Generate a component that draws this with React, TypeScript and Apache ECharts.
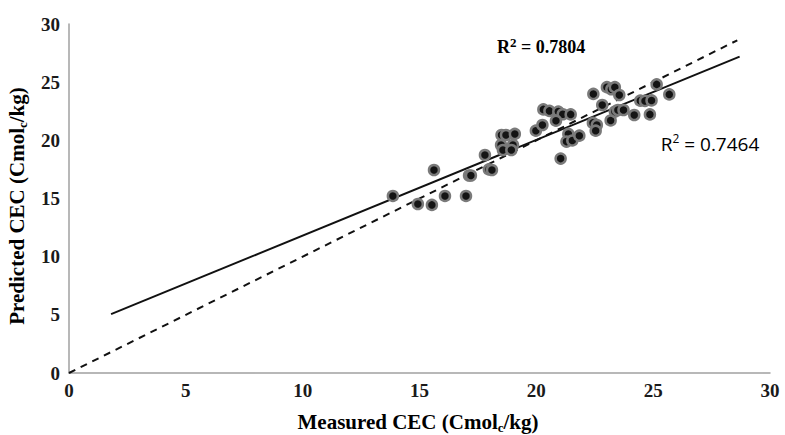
import React, { useEffect, useRef } from "react";
import * as echarts from "echarts";

const measured = [
  13.86, 14.93, 15.53, 16.09, 15.62, 16.99, 17.12, 17.2, 17.8, 17.97, 18.1,
  18.51, 18.7, 19.08, 18.49, 19.0, 18.57, 18.93, 19.98, 20.26, 20.3, 20.56,
  20.94, 21.13, 21.47, 20.84, 21.04, 21.37, 21.29, 21.54, 21.84, 22.44, 23.02,
  23.21, 23.36, 23.55, 22.82, 22.42, 22.59, 22.54, 23.18, 23.36, 23.49, 23.73,
  24.19, 24.45, 24.65, 24.93, 24.86, 25.15, 25.69,
];
const predicted = [
  15.22, 14.53, 14.45, 15.22, 17.45, 15.22, 16.98, 16.98, 18.74, 17.5, 17.45,
  20.46, 20.46, 20.55, 19.6, 19.6, 19.17, 19.17, 20.83, 21.32, 22.66, 22.53,
  22.47, 22.24, 22.23, 21.69, 18.43, 20.55, 19.89, 19.99, 20.4, 23.99, 24.57,
  24.39, 24.57, 23.9, 23.04, 21.5, 21.32, 20.83, 21.71, 22.47, 22.61, 22.61,
  22.18, 23.41, 23.39, 23.43, 22.23, 24.81, 23.95,
];
const fitLine = [
  [1.8, 5.06],
  [28.7, 27.2],
];
const oneToOne = [
  [0, 0],
  [28.6, 28.6],
];
const xTicks = [0, 5, 10, 15, 20, 25, 30];
const yTicks = [0, 5, 10, 15, 20, 25, 30];
const r2FitValue = "0.7804";
const r2OtherValue = "0.7464";

export default function App() {
  const ref = useRef<HTMLDivElement>(null);
  useEffect(() => {
    document.body.style.margin = "0";
    if (!ref.current) return;
    const chart = echarts.init(ref.current, null, { renderer: "svg" });
    const serif = "'Liberation Serif', 'Times New Roman', serif";
    const sans = "'Open Sans', 'Liberation Sans', sans-serif";
    const labelStyle = {
      fontFamily: serif,
      fontWeight: "bold" as const,
      fontSize: 19,
      color: "#1a1a1a",
    };
    chart.setOption({
      animation: false,
      backgroundColor: "#ffffff",
      grid: { left: 69, right: 15, top: 24, bottom: 62 },
      xAxis: {
        type: "value",
        min: 0,
        max: 30,
        interval: 5,
        splitLine: { show: false },
        axisTick: { show: false },
        axisLine: { show: true, lineStyle: { color: "#a0a0a0", width: 1.5 } },
        axisLabel: {
          ...labelStyle,
          margin: 8,
          formatter: (v: number) => (xTicks.includes(v) ? String(v) : ""),
        },
      },
      yAxis: {
        type: "value",
        min: 0,
        max: 30,
        interval: 5,
        splitLine: { show: false },
        axisTick: { show: false },
        axisLine: { show: true, lineStyle: { color: "#a0a0a0", width: 1.5 } },
        axisLabel: {
          ...labelStyle,
          margin: 9,
          formatter: (v: number) => (yTicks.includes(v) ? String(v) : ""),
        },
      },
      graphic: [
        {
          type: "text",
          x: 418,
          y: 409,
          style: {
            text: "{m|Measured CEC (Cmol}{s|c}{m|/kg)}",
            align: "center",
            verticalAlign: "top",
            rich: {
              m: { ...labelStyle, fontSize: 21, lineHeight: 25 },
              s: { ...labelStyle, fontSize: 13, lineHeight: 12, verticalAlign: "bottom" },
            },
          },
          z: 10,
        },
        {
          type: "text",
          x: 4,
          y: 206,
          rotation: Math.PI / 2,
          style: {
            text: "{m|Predicted CEC (Cmol}{s|c}{m|/kg)}",
            align: "center",
            verticalAlign: "top",
            rich: {
              m: { ...labelStyle, fontSize: 21, lineHeight: 25 },
              s: { ...labelStyle, fontSize: 13, lineHeight: 12, verticalAlign: "bottom" },
            },
          },
          z: 10,
        },
        {
          type: "text",
          x: 541,
          y: 47,
          style: {
            text: "{m|R}{sup|2}{m| = " + r2FitValue + "}",
            align: "center",
            verticalAlign: "middle",
            rich: {
              m: { fontFamily: serif, fontWeight: "bold", fontSize: 18, lineHeight: 22, color: "#1a1a1a" },
              sup: { fontFamily: serif, fontWeight: "bold", fontSize: 13, lineHeight: 13, verticalAlign: "top", color: "#1a1a1a" },
            },
          },
        },
        {
          type: "text",
          x: 710,
          y: 144,
          style: {
            text: "{m|R}{sup|2}{m| = " + r2OtherValue + "}",
            align: "center",
            verticalAlign: "middle",
            rich: {
              m: { fontFamily: sans, fontSize: 19, lineHeight: 24, color: "#333333" },
              sup: { fontFamily: sans, fontSize: 12, lineHeight: 12, verticalAlign: "top", color: "#333333" },
            },
          },
        },
      ],
      series: [
        {
          type: "line",
          data: oneToOne,
          symbol: "none",
          lineStyle: { color: "#111", width: 2, type: [7, 6] },
          z: 3,
        },
        {
          type: "line",
          data: fitLine,
          symbol: "none",
          lineStyle: { color: "#111", width: 2 },
          z: 3,
        },
        {
          type: "scatter",
          data: measured.map((m, i) => [m, predicted[i]]),
          symbolSize: 10,
          itemStyle: { color: "#141414", borderColor: "#7a7a7a", borderWidth: 2.5, opacity: 1 },
          z: 4,
        },
      ],
    });
    return () => chart.dispose();
  }, []);
  return <div ref={ref} style={{ width: 785, height: 435 }} />;
}
